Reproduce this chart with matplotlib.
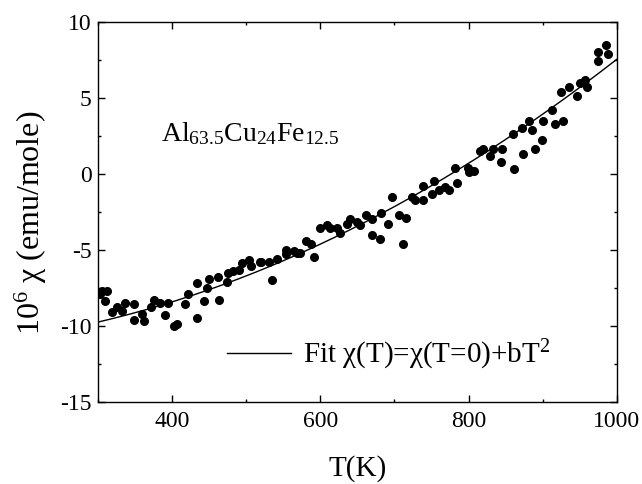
import numpy as np
from matplotlib import pyplot as plt
from matplotlib.ticker import MultipleLocator

plt.rcParams['font.family'] = ['Liberation Serif', 'DejaVu Serif']
plt.rcParams['mathtext.fontset'] = 'custom'
plt.rcParams['mathtext.rm'] = 'Liberation Serif'
plt.rcParams['axes.unicode_minus'] = False

# measured points, T in K, chi in 1e-6 emu/mole
temp = [302, 306, 312, 309, 319, 326, 332, 336, 348, 348,
        359, 362, 372, 376, 383, 390, 394, 403, 406, 418,
        422, 433, 434, 443, 447, 450, 462, 463, 474, 476,
        482, 490, 494, 504, 506, 518, 520, 531, 535, 542,
        554, 554, 565, 568, 573, 580, 588, 592, 599, 609,
        613, 623, 626, 636, 640, 649, 653, 661, 670, 670,
        680, 682, 691, 697, 706, 712, 716, 724, 728, 739,
        739, 751, 754, 760, 768, 774, 782, 785, 799, 801,
        807, 815, 819, 829, 833, 845, 844, 860, 861, 872,
        874, 882, 885, 889, 899, 901, 912, 917, 925, 928,
        936, 946, 950, 957, 960, 974, 975, 985, 988]
chi = [-7.9, -7.7, -7.7, -8.4, -9.1, -8.8, -9.0, -8.5, -9.6, -8.6,
       -9.2, -9.7, -8.8, -8.3, -8.5, -9.3, -8.5, -10.0, -9.9, -8.6,
       -7.9, -9.5, -7.2, -8.4, -7.5, -6.9, -6.8, -8.3, -7.1, -6.5,
       -6.4, -6.3, -5.9, -5.7, -6.1, -5.8, -5.8, -5.8, -7.0, -5.6,
       -5.0, -5.3, -5.1, -5.2, -5.2, -4.4, -4.6, -5.5, -3.6, -3.4,
       -3.6, -3.6, -3.9, -3.3, -3.0, -3.2, -3.4, -2.7, -3.0, -4.0,
       -4.3, -2.6, -3.3, -1.5, -2.7, -4.6, -2.9, -1.5, -1.7, -0.8,
       -1.7, -1.3, -0.5, -1.1, -0.9, -1.1, 0.4, -0.6, 0.4, 0.1,
       0.2, 1.5, 1.6, 1.2, 1.6, 1.6, 0.8, 2.6, 0.3, 3.0,
       1.3, 3.5, 2.9, 1.6, 2.2, 3.5, 4.2, 3.3, 5.4, 3.5,
       5.7, 5.1, 6.0, 6.2, 5.7, 8.0, 7.4, 8.5, 7.9]

# fit chi(T) = chi0 + b*T^2
chi0 = -11.47
b = 1.9e-5
fit_range = (300, 1000)

fig = plt.figure(figsize=(6.42, 4.84), dpi=100)
ax = fig.add_axes([0.1527, 0.170, 0.808, 0.785])

ax.plot(temp, chi, 'o', color='black', ms=5.5, mec='black')
tfit = np.linspace(fit_range[0], fit_range[1], 200)
ax.plot(tfit, chi0 + b * tfit**2, '-', color='black', lw=1.0,
        label=r'Fit χ(T)=χ(T=0)+bT$\mathregular{^2}$')

ax.set_xlim(300, 1000)
ax.set_ylim(-15, 10)
ax.xaxis.set_major_locator(MultipleLocator(200))
ax.xaxis.set_minor_locator(MultipleLocator(100))
ax.yaxis.set_major_locator(MultipleLocator(5))
ax.yaxis.set_minor_locator(MultipleLocator(2.5))
ax.tick_params(which='both', direction='in', top=True, right=True,
               labelsize=17, width=1.0)
ax.tick_params(axis='x', which='both', pad=7)
ax.tick_params(axis='y', which='both', pad=4.5)
ax.tick_params(which='major', length=5)
ax.tick_params(which='minor', length=2.5)
for s in ax.spines.values():
    s.set_linewidth(1.0)

ax.set_xlabel('T(K)', fontsize=21, labelpad=16)
ax.set_ylabel(r'$\mathregular{10^6}$ χ (emu/mole)', fontsize=23)
ax.yaxis.set_label_coords(-0.094, 0.47)

ax.text(385, 2.15, r'$\mathregular{Al_{63.5}Cu_{24}Fe_{12.5}}$', fontsize=20)

ax.legend(loc='center left', bbox_to_anchor=(0.249, 0.123), frameon=False,
          fontsize=21, handlelength=2.2, handletextpad=0.4,
          borderpad=0, borderaxespad=0)

fig.savefig('out.png', dpi=100)
